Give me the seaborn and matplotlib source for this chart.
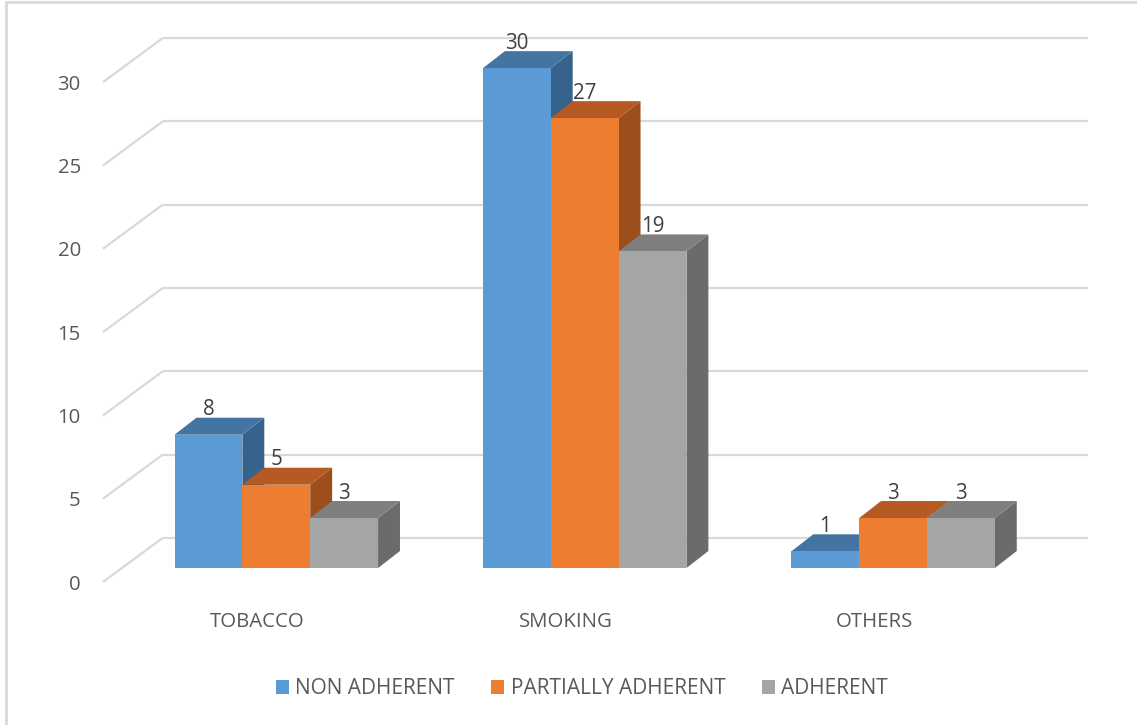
import matplotlib
matplotlib.use("Agg")
import matplotlib.pyplot as plt
import matplotlib.transforms as mtrans
from matplotlib.patches import Polygon, Patch
from matplotlib.lines import Line2D
import seaborn as sns
import pandas as pd

# ---- data ----
categories = ["TOBACCO", "SMOKING", "OTHERS"]
series = ["NON ADHERENT", "PARTIALLY ADHERENT", "ADHERENT"]
non_adherent = [8, 30, 1]
partially_adherent = [5, 27, 3]
adherent = [3, 19, 3]
y_ticks = [0, 5, 10, 15, 20, 25, 30]

front_colors = ["#5B9BD5", "#ED7D31", "#A5A5A5"]
top_colors = ["#4474A2", "#B45A22", "#7F7F7F"]
side_colors = ["#37628C", "#9C4E1C", "#6B6B6B"]

rows = []
for s, vals in zip(series, [non_adherent, partially_adherent, adherent]):
    for c, v in zip(categories, vals):
        rows.append({"category": c, "series": s, "value": v})
df = pd.DataFrame(rows)

sns.set_theme(style="white")
plt.rcParams["font.family"] = ["Open Sans", "DejaVu Sans"]

W, H = 1137, 725
fig = plt.figure(figsize=(W / 100, H / 100), dpi=100)
ax = fig.add_axes([103 / W, 1 - 582 / H, (1088 - 103) / W, (582 - 38) / H])
ax.set_facecolor("none")

# projection offsets (data units)
WALL = (0.194, 2.65)      # floor front -> back wall
BAR_FRONT = (0.062, 0.84)  # floor front -> bar front plane
BAR_DEPTH = (0.071, 1.02)  # bar front -> bar back

sns.barplot(data=df, x="category", y="value", hue="series", order=categories,
            hue_order=series, palette=front_colors, width=0.66, gap=0,
            saturation=1, legend=False, ax=ax, linewidth=0, errorbar=None)

ax.set_xlim(-0.5, 2.5 + WALL[0])
ax.set_ylim(0, 30 + WALL[1])

grid_c = "#D9D9D9"
for v in y_ticks:
    ax.plot([-0.5, -0.5 + WALL[0]], [v, v + WALL[1]], color=grid_c, lw=1.6,
            zorder=0.5, clip_on=False, solid_capstyle="butt")
    ax.plot([-0.5 + WALL[0], 2.5 + WALL[0]], [v + WALL[1], v + WALL[1]],
            color=grid_c, lw=1.6, zorder=0.5, clip_on=False, solid_capstyle="butt")

shift = mtrans.Affine2D().translate(*BAR_FRONT) + ax.transData
patches = sorted(ax.patches, key=lambda p: p.get_x())
color_index = {c.lower(): i for i, c in enumerate(front_colors)}
dx, dy = BAR_DEPTH
for k, p in enumerate(patches):
    x0 = p.get_x()
    w = p.get_width()
    h = p.get_height()
    x1 = x0 + w
    fc = matplotlib.colors.to_hex(p.get_facecolor()).lower()
    i = color_index.get(fc, 0)
    z = 2 + k * 0.1
    p.set_transform(shift)
    p.set_zorder(z + 0.03)
    p.set_clip_on(False)
    side = Polygon([(x1, 0), (x1 + dx, dy), (x1 + dx, h + dy), (x1, h)],
                   closed=True, facecolor=side_colors[i], edgecolor="none",
                   transform=shift, zorder=z, clip_on=False)
    top = Polygon([(x0, h), (x1, h), (x1 + dx, h + dy), (x0 + dx, h + dy)],
                  closed=True, facecolor=top_colors[i], edgecolor="none",
                  transform=shift, zorder=z + 0.01, clip_on=False)
    ax.add_patch(side)
    ax.add_patch(top)
    ax.text(x0 + w / 2, h + dy + 0.15, f"{h:g}", transform=shift, ha="center",
            va="baseline", fontsize=14.8, color="#404040", zorder=10)

for s in ax.spines.values():
    s.set_visible(False)
ax.set_xlabel("")
ax.set_ylabel("")
ax.set_yticks(y_ticks)
ax.set_yticklabels([str(v) for v in y_ticks])
ax.set_xticks(range(len(categories)))
ax.set_xticklabels(categories)
ax.tick_params(axis="y", length=0, pad=16, labelsize=14.7, labelcolor="#595959")
ax.tick_params(axis="x", length=0, pad=21.5, labelsize=14.7, labelcolor="#595959")
ax.grid(False)

handles = [Patch(facecolor=c, edgecolor="none") for c in front_colors]
fig.legend(handles, series, loc="center", bbox_to_anchor=(582 / W, 1 - 689 / H),
           ncol=3, frameon=False, fontsize=15, handlelength=0.63, handleheight=0.63,
           handletextpad=0.3, columnspacing=1.75, labelcolor="#595959")

# outer frame (left and top edges)
fig.add_artist(Line2D([6 / W, 6 / W], [0, 1 - 2 / H], color="#D9D9D9", lw=2,
                      transform=fig.transFigure))
fig.add_artist(Line2D([6 / W, 1], [1 - 2 / H, 1 - 2 / H], color="#D9D9D9", lw=2,
                      transform=fig.transFigure))

fig.savefig("out.png", dpi=100)
